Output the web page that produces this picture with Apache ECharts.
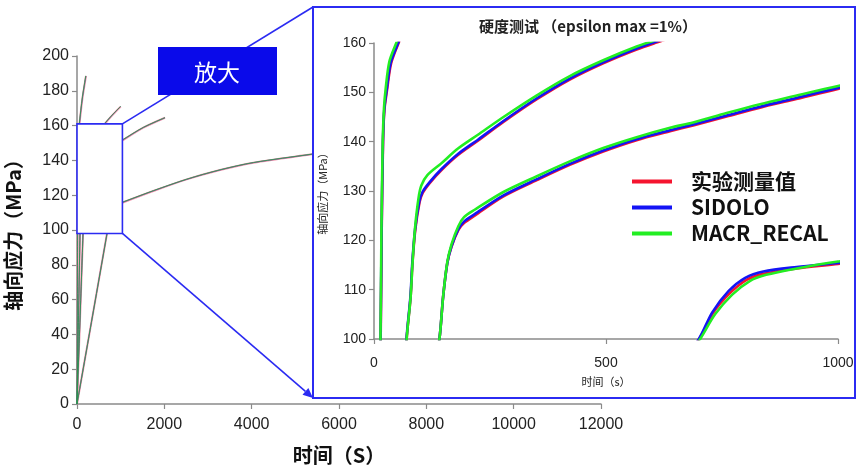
<!DOCTYPE html>
<html><head><meta charset="utf-8">
<script src="https://cdn.jsdelivr.net/npm/echarts@6/dist/echarts.min.js"></script>
<style>html,body{margin:0;padding:0;background:#fff}#c{width:863px;height:472px}</style>
</head><body><div id="c"></div><script>
// ---------- tick labels ----------
const mainXTicks = [0, 2000, 4000, 6000, 8000, 10000, 12000];
const mainYTicks = [0, 20, 40, 60, 80, 100, 120, 140, 160, 180, 200];
const insetXTicks = [0, 500, 1000];
const insetYTicks = [100, 110, 120, 130, 140, 150, 160];
const seriesNames = ['实验测量值', 'SIDOLO', 'MACR_RECAL'];
// zoom window shown in the inset (data units of main chart)
const zoomX = [0, 1040];
const zoomY = [98, 161];

// ---------- data: [time s, axial stress MPa] ----------
const exp1 = [[0,0],[14.4,100],[16.6,122],[19.5,140],[22.4,146.4],[28,150.4],[37,155.9],[53,160],[90,168.5],[130,176.6],[170,183],[206,188.5]];
const sid1 = [[0,0],[14.2,100],[16.4,122],[19.3,140],[22.2,146.6],[27.5,150.6],[36,156],[52,160],[89,168.6],[129,176.7],[169,183.1],[205,188.5]];
const mac1 = [[0,0],[14,100],[16,122],[18.8,140],[21.5,146.8],[25,150.6],[33,156.2],[48,160],[85,168.6],[125,176.8],[165,183.2],[200,188.6]];

const exp2 = [[0,0],[70.4,100],[79,108.6],[83,115.4],[89,122.1],[98,127.6],[105,129.6],[120,131.6],[145,134.2],[181,137.3],[224,140.2],[279,144.0],[351,148.6],[422,152.6],[494,155.9],[566,158.7],[609,160.1],[700,162.9],[832,166.6],[1000,170.9]];
const sid2 = [[0,0],[70,100],[78.5,108.6],[82.5,115.4],[88.5,122.2],[97.5,127.8],[104.5,129.8],[120,131.8],[145,134.4],[181,137.5],[224,140.4],[279,144.2],[351,148.8],[422,152.8],[494,156.1],[566,158.9],[609,160.3],[700,163.0],[832,166.7],[1000,171]];
const mac2 = [[0,0],[70.4,100],[79,108.6],[83,115.4],[88.5,122.6],[96,128.6],[102,131.1],[115,133.2],[145,135.6],[181,138.6],[224,141.4],[279,145.0],[351,149.4],[422,153.3],[494,156.5],[566,159.3],[609,160.6],[700,163.2],[832,166.8],[1000,171.1]];

const exp3 = [[0,0],[141,100],[149,108.6],[158,115.4],[167,118.7],[182,122.1],[194,123.5],[217,125.0],[279,128.9],[351,132.2],[422,135.3],[494,138.0],[566,140.3],[638,142.1],[688,143.3],[760,145.1],[832,146.9],[904,148.5],[1000,150.7],[1050,151.6],[1520,158.8],[2016,164.5]];
const sid3 = [[0,0],[141,100],[149,108.6],[158,115.4],[167,118.8],[182,122.3],[194,123.8],[217,125.3],[279,129.1],[351,132.4],[422,135.5],[494,138.2],[566,140.5],[638,142.3],[688,143.5],[760,145.3],[832,147.1],[904,148.7],[1000,150.9],[1050,151.7],[1520,158.9],[2016,164.5]];
const mac3 = [[0,0],[141,100],[149,108.6],[158,115.6],[167,119.2],[182,122.9],[194,124.7],[217,126.2],[279,129.8],[351,133.0],[422,136.0],[494,138.7],[566,140.9],[638,142.8],[688,143.9],[760,145.8],[832,147.6],[904,149.2],[1000,151.3],[1050,152.0],[1520,159.0],[2016,164.6]];

const exp4 = [[0,0],[701,100],[731,105.3],[767,109.3],[803,112],[839,113.2],[911,114.3],[1000,115.2],[1050,115.8],[1748,122.4],[2512,129.1],[3276,134.5],[4040,138.7],[5376,143.5],[5500,143.9]];
const sid4 = [[0,0],[700,100],[729,105.4],[764,109.7],[800,112.4],[839,113.7],[911,114.6],[1000,115.4],[1050,115.9],[1748,122.5],[2512,129.1],[3276,134.5],[4040,138.7],[5376,143.5],[5500,143.9]];
const mac4 = [[0,0],[703,100],[735,105],[772,109],[809,111.7],[845,113],[911,114.3],[1000,115.7],[1050,116.1],[1748,122.6],[2512,129.2],[3276,134.6],[4040,138.8],[5376,143.6],[5500,144]];

const expCurves = [exp1, exp2, exp3, exp4];
const sidCurves = [sid1, sid2, sid3, sid4];
const macCurves = [mac1, mac2, mac3, mac4];

// ---------- styles ----------
const FONT = 'Liberation Sans';
const CJK = 'Noto Sans CJK SC';
const BLUE = '#2b2bf2';
const AX = '#8a8a8a';
const insetColors = ['#f5142f', '#1414f5', '#22ee22'];
const mainColors = ['#f093ab', '#484890', '#2a9a4a'];
const mainWidths = [2, 0.7, 0.8];
const plain = v => String(v);

function step(t){ return t[1]-t[0]; }

const series = [];
[expCurves, sidCurves, macCurves].forEach((group, gi) => {
  group.forEach((d, ci) => {
    series.push({
      name: 'main-' + gi + '-' + ci, type: 'line', xAxisIndex: 0, yAxisIndex: 0,
      data: d, showSymbol: false, smooth: 0.3, z: 2,
      lineStyle: { color: mainColors[gi], width: mainWidths[gi] }, silent: true
    });
  });
});
[expCurves, sidCurves, macCurves].forEach((group, gi) => {
  group.forEach((d, ci) => {
    series.push({
      name: seriesNames[gi], type: 'line', xAxisIndex: 1, yAxisIndex: 1,
      data: d, showSymbol: false, smooth: 0.3, z: 11, clip: true,
      itemStyle: { color: insetColors[gi] },
      lineStyle: { color: insetColors[gi], width: 2.6 }, silent: true
    });
  });
});

const option = {
  animation: false,
  backgroundColor: '#fff',
  title: {
    text: '硬度测试 （epsilon max =1%）', left: 583, top: 14, textAlign: 'center', z: 12,
    textStyle: { fontFamily: CJK, fontSize: 15, fontWeight: 'bold', color: '#222' }
  },
  legend: {
    data: seriesNames, orient: 'vertical', left: 627, top: 166, z: 12,
    itemWidth: 40, itemHeight: 4, itemGap: 5, icon: 'rect',
    textStyle: { fontFamily: CJK, fontSize: 21, fontWeight: 'bold', color: '#111', padding: [0, 0, 0, 14] }
  },
  grid: [
    { left: 77, right: 262, top: 56, bottom: 68, outerBoundsMode: 'none', containLabel: false },
    { left: 374, right: 25, top: 43, bottom: 133, outerBoundsMode: 'none', containLabel: false }
  ],
  xAxis: [
    { type: 'value', gridIndex: 0, min: mainXTicks[0], max: mainXTicks[mainXTicks.length-1], interval: step(mainXTicks),
      name: '时间（S）', nameLocation: 'middle', nameGap: 41,
      nameTextStyle: { fontFamily: CJK, fontSize: 20, fontWeight: 'bold', color: '#111' },
      axisLine: { show: true, lineStyle: { color: AX, width: 1.5 } },
      axisTick: { show: true, length: 5, lineStyle: { color: AX, width: 1.2 } },
      axisLabel: { fontFamily: FONT, fontSize: 16, color: '#222', margin: 13, formatter: plain },
      splitLine: { show: false } },
    { type: 'value', gridIndex: 1, min: insetXTicks[0], max: insetXTicks[insetXTicks.length-1], interval: step(insetXTicks), z: 10,
      name: '时间（s）', nameLocation: 'middle', nameGap: 37,
      nameTextStyle: { fontFamily: CJK, fontSize: 11, color: '#222' },
      axisLine: { show: true, lineStyle: { color: AX, width: 1.5 } },
      axisTick: { show: true, length: 5, lineStyle: { color: AX, width: 1.2 } },
      axisLabel: { fontFamily: FONT, fontSize: 14, color: '#222', margin: 17, formatter: plain },
      splitLine: { show: false } }
  ],
  yAxis: [
    { type: 'value', gridIndex: 0, min: mainYTicks[0], max: mainYTicks[mainYTicks.length-1], interval: step(mainYTicks),
      name: '轴向应力（MPa）', nameLocation: 'middle', nameGap: 54, nameRotate: 90,
      nameTextStyle: { fontFamily: CJK, fontSize: 20, fontWeight: 'bold', color: '#111' },
      axisLine: { show: true, lineStyle: { color: AX, width: 1.5 } },
      axisTick: { show: true, length: 5, lineStyle: { color: AX, width: 1.2 } },
      axisLabel: { fontFamily: FONT, fontSize: 16, color: '#222', margin: 8, formatter: plain },
      splitLine: { show: false } },
    { type: 'value', gridIndex: 1, min: insetYTicks[0], max: insetYTicks[insetYTicks.length-1], interval: step(insetYTicks), z: 10,
      name: '轴向应力（MPa）', nameLocation: 'middle', nameGap: 46, nameRotate: 90,
      nameTextStyle: { fontFamily: CJK, fontSize: 11, color: '#222' },
      axisLine: { show: true, lineStyle: { color: AX, width: 1.5 } },
      axisTick: { show: true, length: 5, lineStyle: { color: AX, width: 1.2 } },
      axisLabel: { fontFamily: FONT, fontSize: 14, color: '#222', margin: 8, formatter: plain },
      splitLine: { show: false } }
  ],
  series: series
};

const chart = echarts.init(document.getElementById('c'), null, { renderer: 'canvas' });
chart.setOption(option);

// annotation layer built from the axes
const tl = chart.convertToPixel({ gridIndex: 0 }, [zoomX[0], zoomY[1]]);
const br = chart.convertToPixel({ gridIndex: 0 }, [zoomX[1], zoomY[0]]);
const FRAME = { x: 313, y: 7, width: 542, height: 391 };
const tip = [FRAME.x, FRAME.y + FRAME.height];
const dx = tip[0] - br[0], dy = tip[1] - br[1];
const L = Math.sqrt(dx*dx + dy*dy), ux = dx / L, uy = dy / L;
const AL = 10, AW = 4.5;
const base = [tip[0] - ux*AL, tip[1] - uy*AL];
const arrowPts = [tip, [base[0] - uy*AW, base[1] + ux*AW], [base[0] + uy*AW, base[1] - ux*AW]];

chart.setOption({
  graphic: [
    { type: 'rect', z: 3, shape: { x: tl[0], y: tl[1], width: br[0]-tl[0], height: br[1]-tl[1] },
      style: { fill: '#fff', stroke: BLUE, lineWidth: 1.6 } },
    { type: 'line', z: 3, shape: { x1: br[0], y1: tl[1], x2: FRAME.x, y2: FRAME.y },
      style: { stroke: BLUE, lineWidth: 1.6 } },
    { type: 'line', z: 3, shape: { x1: br[0], y1: br[1], x2: base[0], y2: base[1] },
      style: { stroke: BLUE, lineWidth: 1.6 } },
    { type: 'polygon', z: 3, shape: { points: arrowPts }, style: { fill: BLUE } },
    { type: 'rect', z: 4, shape: { x: 158, y: 47, width: 119, height: 48 }, style: { fill: '#0a0aea' } },
    { type: 'text', z: 4, x: 217, y: 72,
      style: { text: '放大', fill: '#fff', fontSize: 23, fontFamily: CJK, align: 'center', verticalAlign: 'middle' } },
    { type: 'rect', z: 5, shape: FRAME, style: { fill: '#fff', stroke: BLUE, lineWidth: 2 } }
  ]
});
</script></body></html>
